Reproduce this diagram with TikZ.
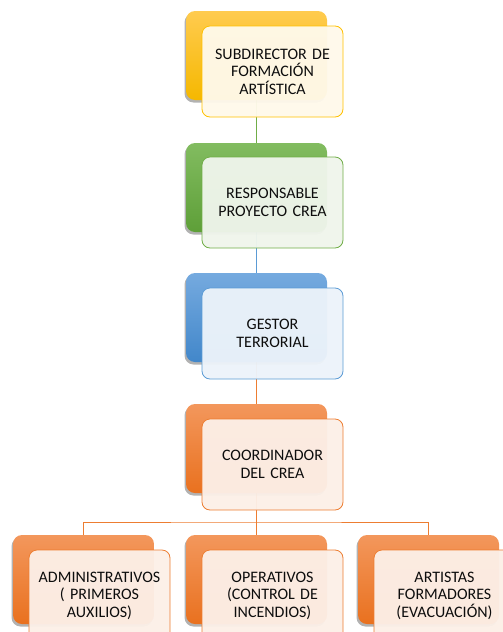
\documentclass[tikz,border=0pt]{standalone}
\usepackage{fontspec}
\setmainfont[WordSpace=0.7]{Carlito}
\usetikzlibrary{shadows,backgrounds}
\definecolor{ylwT}{HTML}{FFCB4F}
\definecolor{ylwB}{HTML}{F5B800}
\definecolor{ylwL}{HTML}{FFC000}
\definecolor{ylwF}{HTML}{FFF9EA}
\definecolor{grnT}{HTML}{82BC60}
\definecolor{grnB}{HTML}{5E9F38}
\definecolor{grnL}{HTML}{70AD47}
\definecolor{grnF}{HTML}{EFF5EB}
\definecolor{bluT}{HTML}{75AADF}
\definecolor{bluB}{HTML}{4287CA}
\definecolor{bluL}{HTML}{5B9BD5}
\definecolor{bluF}{HTML}{ECF3FA}
\definecolor{orgT}{HTML}{F3975C}
\definecolor{orgB}{HTML}{E9711F}
\definecolor{orgL}{HTML}{ED7D31}
\definecolor{orgF}{HTML}{FCEFE7}
\definecolor{txt}{HTML}{0D0D0D}
\tikzset{
  backbox/.style={rounded corners=9pt, minimum width=141pt, minimum height=89pt,
    inner sep=0pt, outer sep=0pt, anchor=north west,
    drop shadow={shadow xshift=-1.5pt, shadow yshift=-2.5pt, opacity=0.3, fill=black}},
  frontbox/.style={rounded corners=8pt, draw, line width=0.8pt, minimum width=141pt,
    minimum height=91pt, inner sep=0pt, outer sep=0pt, anchor=north west,
    fill opacity=0.96, text opacity=1, text width=138pt, align=center,
    font=\fontsize{16}{17.5}\selectfont, text=txt},
  yback/.style={backbox, top color=ylwT, bottom color=ylwB},
  gback/.style={backbox, top color=grnT, bottom color=grnB},
  bback/.style={backbox, top color=bluT, bottom color=bluB},
  oback/.style={backbox, top color=orgT, bottom color=orgB},
  yfront/.style={frontbox, draw=ylwL, fill=ylwF},
  gfront/.style={frontbox, draw=grnL, fill=grnF},
  bfront/.style={frontbox, draw=bluL, fill=bluF},
  ofront/.style={frontbox, draw=orgL, fill=orgF},
  conn/.style={line width=0.9pt}
}
\begin{document}
\begin{tikzpicture}[x=1pt,y=-1pt]
\useasboundingbox (0,0) rectangle (503,632);
\clip (0,0) rectangle (503,632);
% level 1
\node[yback] (b1) at (186,11) {};
\node[yfront] (f1) at (202,26) {SUBDIRECTOR DE\\FORMACIÓN\\ARTÍSTICA};
% level 2
\node[gback] (b2) at (186,143) {};
\node[gfront] (f2) at (202,157) {RESPONSABLE\\PROYECTO CREA};
% level 3
\node[bback] (b3) at (186,273) {};
\node[bfront] (f3) at (202,288) {GESTOR\\TERRORIAL};
% level 4
\node[oback] (b4) at (186,404) {};
\node[ofront] (f4) at (202,419) {COORDINADOR\\DEL CREA};
% level 5
\node[oback] (b5a) at (13,535) {};
\node[ofront] (f5a) at (29,550) {ADMINISTRATIVOS\\( PRIMEROS\\AUXILIOS)};
\node[oback] (b5b) at (186,535) {};
\node[ofront] (f5b) at (202,550) {OPERATIVOS\\(CONTROL DE\\INCENDIOS)};
\node[oback] (b5c) at (358,535) {};
\node[ofront] (f5c) at (374,550) {ARTISTAS\\FORMADORES\\(EVACUACIÓN)};
\coordinate (bus) at (0,522);
\begin{scope}[on background layer]
  \draw[conn, grnL] (b1.center) -- (b2.center);
  \draw[conn, bluL] (b2.center) -- (b3.center);
  \draw[conn, orgL] (b3.center) -- (b4.center);
  \draw[conn, orgL] (b4.center) -- (b5b.center);
  \draw[conn, orgL] (b5a.center) |- (b4.center |- bus) -| (b5c.center);
\end{scope}
\end{tikzpicture}
\end{document}
